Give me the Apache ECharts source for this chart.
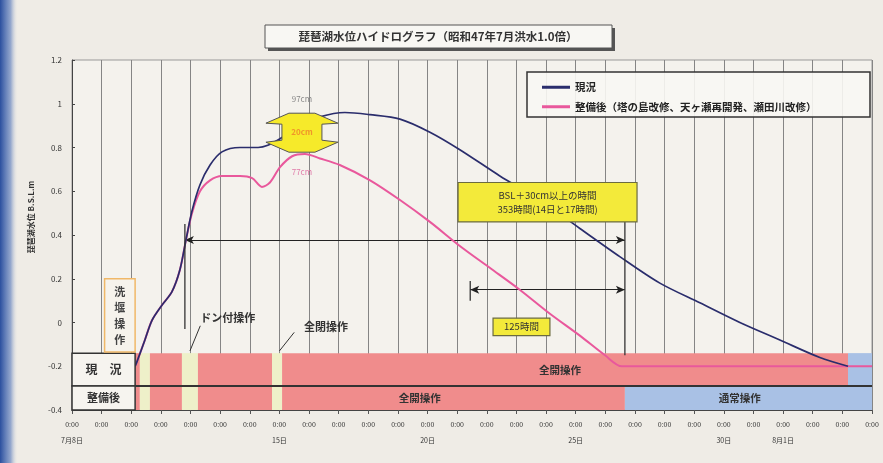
<!DOCTYPE html>
<html><head><meta charset="utf-8">
<script src="https://cdn.jsdelivr.net/npm/echarts@6/dist/echarts.min.js"></script>
<style>html,body{margin:0;padding:0;background:#efece6}#c{width:883px;height:463px}</style>
</head><body><div id="c"></div>
<script>
// ---- data (x in days from 7月8日 0:00, y in B.S.L. m) ----
const timeTickLabel = '0:00';
const dateTickIndex = [0, 7, 12, 17, 22, 24];
const dateTickText  = ['7月8日', '15日', '20日', '25日', '30日', '8月1日'];
const yTickValues = [-0.4, -0.2, 0, 0.2, 0.4, 0.6, 0.8, 1, 1.2];

const currentLevel = [
  [2.13,-0.2],[2.19,-0.18],[2.46,-0.08],[2.70,0.01],[3.04,0.08],[3.37,0.14],[3.64,0.24],[3.85,0.38],
  [4.05,0.51],[4.32,0.63],[4.66,0.72],[5.06,0.78],[5.67,0.80],[6.28,0.80],[6.61,0.81],
  [7.02,0.84],[7.69,0.90],[8.37,0.94],[9.21,0.96],[10.06,0.95],[11.07,0.93],[12.08,0.87],
  [13.09,0.79],[14.44,0.67],[15.79,0.56],[17.14,0.43],[18.50,0.30],[19.84,0.18],[21.19,0.09],
  [22.54,0.00],[23.89,-0.08],[25.24,-0.16],[26.19,-0.20]
];
const improvedLevel = [
  [2.13,-0.2],[2.19,-0.18],[2.46,-0.08],[2.70,0.01],[3.04,0.08],[3.37,0.14],[3.64,0.24],[3.85,0.38],
  [4.05,0.50],[4.32,0.60],[4.66,0.65],[5.06,0.67],[5.67,0.67],[6.08,0.66],[6.41,0.62],[6.68,0.64],
  [7.02,0.71],[7.43,0.76],[7.86,0.77],[8.37,0.75],[9.04,0.72],[10.06,0.65],[11.07,0.56],
  [12.08,0.46],[13.09,0.35],[14.10,0.25],[15.11,0.15],[16.13,0.04],[17.14,-0.06],[17.99,-0.15],
  [18.56,-0.20],[27,-0.20]
];
// operation bands: [start day, end day, type]  type 0=全開 1=全閉/ドン付 2=通常
const currentOps  = [[2.13,2.29,0],[2.29,2.63,1],[2.63,3.71,0],[3.71,4.25,1],[4.25,6.75,0],[6.75,7.09,1],[7.09,26.19,0],[26.19,27,2]];
const improvedOps = [[2.13,2.29,0],[2.29,2.63,1],[2.63,3.71,0],[3.71,4.25,1],[4.25,6.75,0],[6.75,7.09,1],[7.09,18.66,0],[18.66,27,2]];
const opColors = ['#f08c8c', '#eef0c9', '#a9c1e5'];
const rowRanges = [[-0.14,-0.29],[-0.29,-0.40]];

// annotation anchors (data coords)
const longArrow  = [[3.81,0.377],[18.66,0.377]];
const shortArrow = [[13.44,0.15],[18.66,0.15]];
const vLines = [[[3.81,0.45],[3.81,-0.03]],[[18.66,0.49],[18.66,-0.15]],[[13.44,0.19],[13.44,0.10]]];
const peakCurrent = 0.96, peakImproved = 0.77;

const FONT = '"Noto Sans CJK JP","Noto Sans",sans-serif';
const chart = echarts.init(document.getElementById('c'));

const bandData = [];
currentOps.forEach(o => bandData.push([o[0], o[1], 0, o[2]]));
improvedOps.forEach(o => bandData.push([o[0], o[1], 1, o[2]]));

const option = {
  backgroundColor: '#efece6',
  animation: false,
  textStyle: {fontFamily: FONT},
  grid: {left: 72, right: 11, top: 60, bottom: 53, show: true, borderColor: '#999', borderWidth: 1, backgroundColor: '#f4f2ed'},
  legend: {
    left: 537, top: 77, orient: 'vertical', itemWidth: 28, itemHeight: 3, itemGap: 9, icon: 'rect',
    data: ['現況', '整備後（塔の島改修、天ヶ瀬再開発、瀬田川改修）'],
    textStyle: {fontSize: 10.5, fontWeight: 'bold', color: '#222', fontFamily: FONT}
  },
  xAxis: {
    type: 'value', min: 0, max: 27, interval: 1,
    axisLine: {show: true, onZero: false, lineStyle: {color: '#444'}},
    axisTick: {show: true, length: 4, lineStyle: {color: '#555'}},
    splitLine: {show: true, lineStyle: {color: '#858585', width: 1}},
    axisLabel: {
      margin: 11,
      formatter: v => {
        const i = dateTickIndex.indexOf(Math.round(v));
        return i >= 0 ? '{t|' + timeTickLabel + '}\n{d|' + dateTickText[i] + '}' : '{t|' + timeTickLabel + '}';
      },
      rich: {t: {fontSize: 7, color: '#333', fontFamily: FONT}, d: {fontSize: 7, color: '#333', padding: [9,0,0,0], fontFamily: FONT}}
    }
  },
  yAxis: {
    type: 'value', min: -0.4, max: 1.2, interval: 0.2,
    axisLine: {show: true, onZero: false, lineStyle: {color: '#444'}},
    axisTick: {show: true, inside: true, length: 3},
    splitLine: {show: false},
    axisLabel: {fontSize: 8, color: '#333', margin: 10, formatter: v => String(Math.round(v*10)/10)}
  },
  series: [
    {
      type: 'custom', name: 'ops', silent: true, z: 1,
      data: bandData,
      renderItem: (params, api) => {
        const row = rowRanges[api.value(2)];
        const p1 = api.coord([api.value(0), row[0]]);
        const p2 = api.coord([api.value(1), row[1]]);
        return {type: 'rect', shape: {x: p1[0], y: p1[1], width: p2[0]-p1[0], height: p2[1]-p1[1]},
                style: {fill: opColors[api.value(3)]}};
      }
    },
    {
      name: '整備後（塔の島改修、天ヶ瀬再開発、瀬田川改修）', type: 'line', data: improvedLevel, smooth: 0.3,
      showSymbol: false, z: 5, lineStyle: {color: '#e9589c', width: 2}, itemStyle: {color: '#e9589c'}
    },
    {
      name: '現況', type: 'line', data: currentLevel, smooth: 0.3,
      showSymbol: false, z: 6, lineStyle: {color: '#2a2d6c', width: 1.7}, itemStyle: {color: '#2a2d6c'},
      markLine: {
        silent: true, symbol: ['arrow','arrow'], symbolSize: [6,9],
        label: {show: false}, lineStyle: {color: '#222', width: 1.2, type: 'solid'},
        data: [
          [{coord: longArrow[0]}, {coord: longArrow[1]}],
          [{coord: shortArrow[0]}, {coord: shortArrow[1]}]
        ]
      }
    }
  ]
};
chart.setOption(option);

const P = (d, v) => chart.convertToPixel({gridIndex: 0}, [d, v]);
const g = [];
// left scan edge
g.push({type: 'rect', shape: {x: 0, y: 0, width: 18, height: 463}, z: 100,
  style: {fill: new echarts.graphic.LinearGradient(0,0,1,0,[{offset:0,color:'#2b4f9e'},{offset:0.6,color:'rgba(60,100,180,0.5)'},{offset:1,color:'rgba(239,236,230,0)'}])}});
// title
g.push({type: 'rect', shape: {x: 268, y: 28, width: 347, height: 23}, z: 100, style: {fill: '#555'}});
g.push({type: 'rect', shape: {x: 265, y: 25, width: 347, height: 23}, z: 101, style: {fill: '#f8f7f3', stroke: '#555', lineWidth: 1}});
g.push({type: 'text', x: 438, y: 36.5, z: 102, style: {text: '琵琶湖水位ハイドログラフ（昭和47年7月洪水1.0倍）', font: 'bold 11.5px ' + FONT, fill: '#333', align: 'center', verticalAlign: 'middle'}});
// legend box
g.push({type: 'rect', shape: {x: 527, y: 72, width: 343, height: 45}, z: 0, style: {fill: 'rgba(248,247,243,0.9)', stroke: '#333', lineWidth: 1.5}});
// y axis name
g.push({type: 'text', x: 31, y: 217, rotation: Math.PI/2, z: 100, style: {text: '琵琶湖水位 B.S.L.m', font: 'bold 8px ' + FONT, fill: '#333', align: 'center', verticalAlign: 'middle'}});
// vertical guide lines
vLines.forEach(l => { const a = P(l[0][0], l[0][1]), b = P(l[1][0], l[1][1]);
  g.push({type: 'line', shape: {x1: a[0], y1: a[1], x2: b[0], y2: b[1]}, z: 50, style: {stroke: '#333', lineWidth: 1.3}}); });
// row separator
(() => { const a = P(0, -0.29), b = P(27, -0.29);
  g.push({type: 'line', shape: {x1: a[0], y1: a[1], x2: b[0], y2: b[1]}, z: 50, style: {stroke: '#333', lineWidth: 2}}); })();
// row label boxes
(() => { const a = P(0, -0.14), m = P(2.13, -0.29), b = P(2.13, -0.40);
  g.push({type: 'rect', shape: {x: a[0], y: a[1], width: m[0]-a[0], height: m[1]-a[1]}, z: 50, style: {fill: '#f6f4ef', stroke: '#333', lineWidth: 1.5}});
  g.push({type: 'rect', shape: {x: a[0], y: m[1], width: m[0]-a[0], height: b[1]-m[1]}, z: 50, style: {fill: '#f6f4ef', stroke: '#333', lineWidth: 1.5}});
  g.push({type: 'text', x: (a[0]+m[0])/2, y: (a[1]+m[1])/2, z: 51, style: {text: '現　況', font: 'bold 12px ' + FONT, fill: '#333', align: 'center', verticalAlign: 'middle'}});
  g.push({type: 'text', x: (a[0]+m[0])/2, y: (m[1]+b[1])/2, z: 51, style: {text: '整備後', font: 'bold 11px ' + FONT, fill: '#333', align: 'center', verticalAlign: 'middle'}});
  const t = P(1.1, 0.2), bt = P(2.13, -0.135);
  g.push({type: 'rect', shape: {x: t[0], y: t[1], width: bt[0]-t[0], height: bt[1]-t[1]}, z: 50, style: {fill: '#f6f3ec', stroke: '#f0b868', lineWidth: 1.5}});
  g.push({type: 'text', x: (t[0]+bt[0])/2, y: (t[1]+bt[1])/2, z: 51, style: {text: '洗\n堰\n操\n作', font: 'bold 11px ' + FONT, fill: '#444', align: 'center', verticalAlign: 'middle', lineHeight: 16}});
})();
// band texts
[[16.47,-0.215,'全開操作'],[11.74,-0.345,'全開操作'],[22.54,-0.345,'通常操作']].forEach(t => { const p = P(t[0], t[1]);
  g.push({type: 'text', x: p[0], y: p[1], z: 60, style: {text: t[2], font: 'bold 10.5px ' + FONT, fill: '#333', align: 'center', verticalAlign: 'middle'}}); });
// callouts
[[5.26,0.02,'ドン付操作',[4.33,-0.015],[3.98,-0.13]],[8.57,-0.02,'全閉操作',[7.5,-0.045],[7.0,-0.13]]].forEach(c => {
  const p = P(c[0], c[1]), a = P(c[3][0], c[3][1]), b = P(c[4][0], c[4][1]);
  g.push({type: 'text', x: p[0], y: p[1], z: 60, style: {text: c[2], font: 'bold 11px ' + FONT, fill: '#333', align: 'center', verticalAlign: 'middle'}});
  g.push({type: 'line', shape: {x1: a[0], y1: a[1], x2: b[0], y2: b[1]}, z: 60, style: {stroke: '#333', lineWidth: 1}});
});
// yellow boxes
[[[13.03,0.64],[19.07,0.46],'BSL＋30cm以上の時間\n353時間(14日と17時間)'],[[14.21,0.02],[16.13,-0.06],'125時間']].forEach(bx => {
  const a = P(bx[0][0], bx[0][1]), b = P(bx[1][0], bx[1][1]);
  g.push({type: 'rect', shape: {x: a[0], y: a[1], width: b[0]-a[0], height: b[1]-a[1]}, z: 70, style: {fill: '#f3ea3a', stroke: '#6b6b40', lineWidth: 1.2}});
  g.push({type: 'text', x: (a[0]+b[0])/2, y: (a[1]+b[1])/2, z: 71, style: {text: bx[2], font: '9.5px ' + FONT, fill: '#333', align: 'center', verticalAlign: 'middle', lineHeight: 14}});
});
// peak difference block arrow
(() => { const c = P(7.76, (peakCurrent + peakImproved)/2 + 0.005);
  const pts = [[-36,-9],[-13,-19],[13,-19],[36,-9],[20,-8],[20,8],[36,10],[13,20],[-13,20],[-36,10],[-20,8],[-20,-8]].map(q => [c[0]+q[0], c[1]+q[1]]);
  g.push({type: 'polygon', shape: {points: pts}, z: 80, style: {fill: '#f6ea2a', stroke: '#555', lineWidth: 1}});
  g.push({type: 'text', x: c[0], y: c[1], z: 81, style: {text: '20cm', font: 'bold 8px ' + FONT, fill: '#f0952a', align: 'center', verticalAlign: 'middle'}});
  const t1 = P(7.76, 1.02), t2 = P(7.76, 0.69);
  g.push({type: 'text', x: t1[0], y: t1[1], z: 81, style: {text: '97cm', font: '8px ' + FONT, fill: '#888', align: 'center', verticalAlign: 'middle'}});
  g.push({type: 'text', x: t2[0], y: t2[1], z: 81, style: {text: '77cm', font: '8px ' + FONT, fill: '#e07aa8', align: 'center', verticalAlign: 'middle'}});
})();
chart.setOption({graphic: g});
</script></body></html>
